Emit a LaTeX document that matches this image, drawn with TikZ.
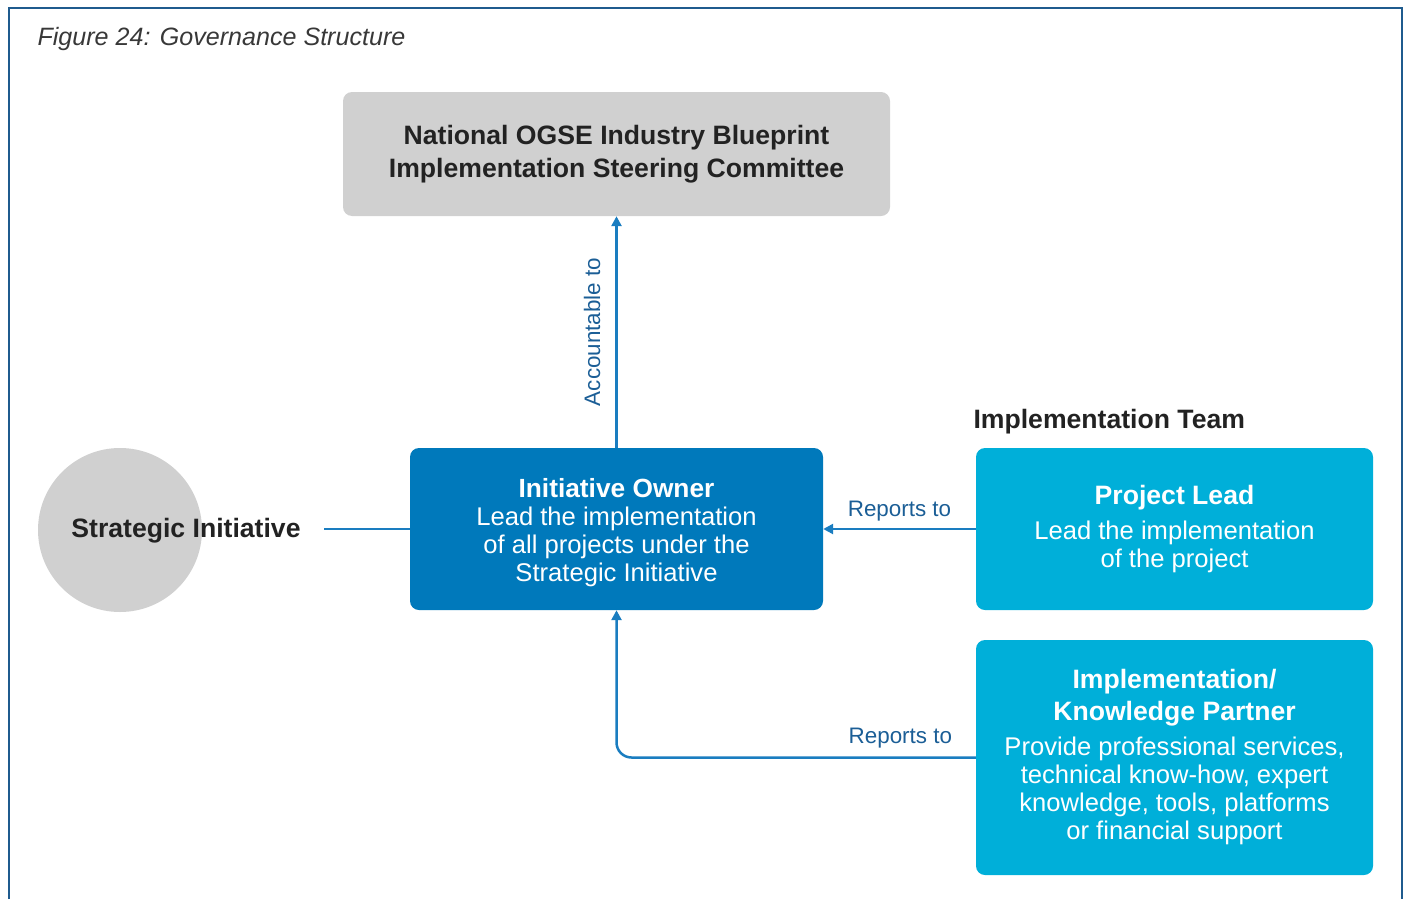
\documentclass[tikz,border=0pt]{standalone}
\usepackage{fontspec}
\setmainfont{Liberation Sans}
\usetikzlibrary{arrows.meta, positioning}
\definecolor{boxGray}{HTML}{D0D0D0}
\definecolor{ownerBlue}{HTML}{0079BB}
\definecolor{leadCyan}{HTML}{00AFD9}
\definecolor{lineBlue}{HTML}{1A7DC0}
\definecolor{labelBlue}{HTML}{1B5E96}
\definecolor{frameBlue}{HTML}{1F5B8E}
\definecolor{textDark}{HTML}{222222}
\tikzstyle{recNode} = [rectangle, text centered, align=center, rounded corners=9pt, inner sep=0pt]
\tikzstyle{recNodeG} = [recNode, fill=boxGray, text=textDark, font=\bfseries\fontsize{26.6}{33}\selectfont]
\tikzstyle{recNodeB} = [recNode, fill=ownerBlue, text=white, font=\fontsize{25.6}{28}\selectfont]
\tikzstyle{recNodeC} = [recNode, fill=leadCyan, text=white, font=\fontsize{25.6}{28}\selectfont]
\tikzstyle{circNode} = [circle, fill=boxGray, minimum size=164pt, inner sep=0pt]
\tikzstyle{eNode} = [text=textDark, font=\bfseries\fontsize{26.6}{32}\selectfont]
\tikzstyle{lblNode} = [text=labelBlue, font=\fontsize{22.4}{26}\selectfont]
\tikzstyle{lineB} = [line width=2.5pt, draw=lineBlue]
\tikzstyle{arrowB} = [lineB, -{Triangle[length=10pt,width=10pt]}]

\begin{document}
\begin{tikzpicture}[x=1pt, y=-1pt]
    \useasboundingbox (0,0) rectangle (1404,899);
    \draw [frameBlue, line width=2.5pt] (9,899) |- (1402,8) -- (1402,899);
    \node (caption) [anchor=west, text=textDark!90, font=\itshape\fontsize{25.1}{28}\selectfont] at (34,39) {Figure 24: Governance Structure};

    \node (steer) [recNodeG, minimum width=547pt, minimum height=124pt] at (616.5,154) {National OGSE Industry Blueprint\\Implementation Steering Committee};
    \node (strat) [circNode] at (120,530) {};
    \node (stratLbl) [eNode] at (186,531) {Strategic Initiative};
    \node (owner) [recNodeB, minimum width=413pt, minimum height=162pt] at (616.5,529) {{\bfseries\fontsize{26.3}{28}\selectfont\rule{0pt}{26pt}Initiative Owner}\\Lead the implementation\\of all projects under the\\Strategic Initiative};
    \node (lead) [recNodeC, minimum width=397pt, minimum height=162pt] at (1174.5,529) {{\bfseries\fontsize{26.6}{28}\selectfont Project Lead}\\[7pt]Lead the implementation\\of the project};
    \node (team) [eNode, anchor=west] at (970,422) {Implementation Team};
    \node (partner) [recNodeC, minimum width=397pt, minimum height=235pt] at (1174.5,757.5) {{\bfseries\fontsize{26.6}{28}\selectfont Implementation/}\\[4pt]{\bfseries\fontsize{26.6}{28}\selectfont Knowledge Partner}\\[7pt]Provide professional services,\\technical know-how, expert\\knowledge, tools, platforms\\or financial support};

    \draw [lineB, shorten <=20pt] (stratLbl.east |- owner.west) -- (owner.west);
    \draw [arrowB] (owner.north) -- node[lblNode, midway, sloped, above, inner sep=15pt] {Accountable to} (steer.south);
    \draw [arrowB] (lead.west) -- node[lblNode, above, yshift=3pt] {Reports to} (owner.east);
    \draw [arrowB, rounded corners=15pt] (partner.west) -| node[lblNode, above, pos=0.105, yshift=5pt] {Reports to} (owner.south);

\end{tikzpicture}
\end{document}
